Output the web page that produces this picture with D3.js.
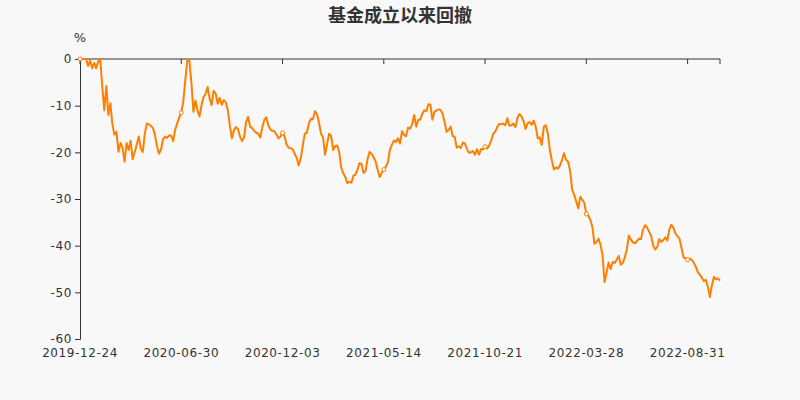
<!DOCTYPE html>
<html><head><meta charset="utf-8">
<script src="https://cdn.jsdelivr.net/npm/d3@7"></script>
<style>html,body{margin:0;padding:0;background:#f8f8f8;}svg{display:block;font-family:"DejaVu Sans",sans-serif;}</style>
</head><body><svg id="c" width="800" height="400"></svg>
<script>
const title = "基金成立以来回撤";
const yUnit = "%";
const yTicks = [0, -10, -20, -30, -40, -50, -60];
const xLabels = ["2019-12-24","2020-06-30","2020-12-03","2021-05-14","2021-10-21","2022-03-28","2022-08-31"];
const xLabelIndex = [0, 50, 100, 150, 200, 250, 300];
const drawdown = [
0,0,0,0,-1.5,-0.3,-2,-0.8,-2,-0.5,
0,-6,-11,-5.8,-12,-9.5,-14,-16.2,-15.6,-19.9,
-18,-19,-22,-18,-19.5,-17.5,-21.5,-20,-18.4,-16.6,
-19.2,-19.9,-16,-13.8,-14,-14.3,-14.8,-16.2,-18.7,-20.3,
-19.4,-17.2,-16.6,-16.9,-16.4,-16.4,-17.6,-15.1,-13.8,-12.5,
-11.5,-9.1,-4.5,-0.2,-0.4,-5,-11.3,-8.9,-11,-12.3,
-9.9,-8.1,-7.5,-6,-8.5,-9.9,-6.8,-7.4,-9.6,-8.3,
-9.8,-8.8,-9.3,-11,-14.3,-17,-15.3,-14.6,-15,-16.6,
-17.6,-16.8,-13.5,-12.4,-14.5,-14.8,-15.4,-15.8,-16,-16.8,
-14.7,-13,-12.5,-14.2,-15.1,-15.4,-15.5,-16.2,-17,-16.6,
-15.8,-16.6,-18.3,-19,-19.1,-19.3,-20.3,-21.2,-22.8,-21.3,
-18.5,-16,-15.8,-13.8,-12.8,-12.9,-11.2,-11.8,-13.6,-16,
-16.8,-20.5,-18.3,-16,-16.5,-19.5,-18.7,-18.5,-20,-23.3,
-24.5,-25.3,-26.6,-26.3,-26.5,-25,-24.8,-23.7,-22.3,-22.5,
-24.4,-24,-21.4,-19.9,-20.3,-21.1,-22,-23.8,-25.3,-24.4,
-23.7,-23.1,-22.2,-19.5,-18.4,-17.5,-17.8,-17,-18.1,-15.5,
-16.3,-16.5,-14.7,-14.9,-14,-12,-14.5,-13,-13,-11.7,
-11,-11.2,-9.7,-9.8,-13,-11.3,-11,-10.8,-10.9,-11.7,
-13.5,-15.6,-15.2,-14.5,-16.5,-16.7,-19,-18.7,-19.1,-17.9,
-18.1,-19.2,-20.1,-20,-19.7,-20.5,-19.3,-20.5,-19.3,-19.4,
-18.8,-19.2,-18.6,-17.5,-16,-15.6,-14.6,-13.9,-14,-13.8,
-14.2,-12.7,-14.3,-14.2,-13.8,-14.6,-12.6,-11.8,-12.3,-13.3,
-15,-13.8,-13.5,-14.1,-13.2,-14.5,-17,-16.8,-18.4,-14.5,
-14.2,-16,-19.5,-21.8,-23.7,-23.2,-23.5,-22.8,-21.6,-20.2,
-21.6,-22,-24,-28,-29.1,-30.5,-32,-29.5,-30.2,-30.8,
-33.2,-33.6,-34.5,-36,-39.6,-39.2,-38.5,-39.8,-42,-47.8,
-45.8,-43.6,-45,-43.5,-43.7,-43,-42.2,-44.1,-43.7,-42.5,
-40.8,-37.8,-38.7,-39.3,-39.5,-39,-38.5,-38.6,-36.5,-35.6,
-36.1,-37,-37.9,-40,-40.8,-40.3,-38.6,-39.2,-38.8,-38.2,
-38.9,-36.5,-35.5,-36.2,-37.4,-38,-38.5,-40.5,-42.5,-42.7,
-43,-42.8,-43,-43.6,-44.5,-45.6,-46.2,-46.8,-47.6,-47.3,
-48.8,-51,-48.5,-46.7,-47.2,-47,-47.5
];

const svg = d3.select("#c");
const W = 800, H = 400;
const m = {l: 80, r: 80, t: 59, b: 61};
svg.append("rect").attr("width", W).attr("height", H).attr("fill", "#f8f8f8");

const x = d3.scaleLinear().domain([0, drawdown.length - 1]).range([m.l, W - m.r]);
const y = d3.scaleLinear().domain([-60, 0]).range([H - m.b, m.t]);

svg.append("text").attr("x", W / 2).attr("y", 22).attr("text-anchor", "middle")
  .attr("font-size", 18).attr("font-weight", "bold").attr("fill", "#333")
  .attr("font-family", "'Noto Sans CJK SC', sans-serif").text(title);

svg.append("text").attr("x", m.l).attr("y", 42).attr("text-anchor", "middle")
  .attr("font-size", 13).attr("fill", "#333").text(yUnit);

// y axis
const yAxis = d3.axisLeft(y).tickValues(yTicks).tickSize(5).tickPadding(3).tickFormat(d => String(d));
const gy = svg.append("g").attr("transform", `translate(${m.l},0)`).call(yAxis);
gy.select(".domain").attr("stroke", "#333");
gy.selectAll(".tick line").attr("stroke", "#333");
gy.selectAll(".tick text").attr("fill", "#333").attr("font-size", 12)
  .attr("letter-spacing", "0.6px").attr("font-family", "'DejaVu Sans', sans-serif");

// x axis on zero line with labels at bottom
const gx = svg.append("g").attr("transform", `translate(0,${y(0)})`);
gx.append("line").attr("x1", m.l).attr("x2", W - m.r).attr("stroke", "#333");
const tickPos = xLabelIndex.map(i => x(i)).concat([x(drawdown.length - 1)]);
gx.selectAll("line.t").data(tickPos).enter().append("line").attr("class", "t")
  .attr("x1", d => d).attr("x2", d => d).attr("y1", 0).attr("y2", 5).attr("stroke", "#333");
svg.append("g").selectAll("text").data(xLabels).enter().append("text")
  .attr("x", (d, i) => x(xLabelIndex[i])).attr("y", H - m.b + 18)
  .attr("text-anchor", "middle").attr("font-size", 12).attr("fill", "#333")
  .attr("letter-spacing", "0.6px")
  .attr("font-family", "'DejaVu Sans', sans-serif").text(d => d);

// line
const line = d3.line().x((d, i) => x(i)).y(d => y(d));
svg.append("path").datum(drawdown).attr("d", line).attr("fill", "none")
  .attr("stroke", "#ff7f00").attr("stroke-width", 2).attr("stroke-linejoin", "round");

svg.append("g").selectAll("circle").data(xLabelIndex).enter().append("circle")
  .attr("cx", i => x(i)).attr("cy", i => y(drawdown[i])).attr("r", 2)
  .attr("fill", "#fff").attr("stroke", "#ff7f00").attr("stroke-width", 1);
</script></body></html>
